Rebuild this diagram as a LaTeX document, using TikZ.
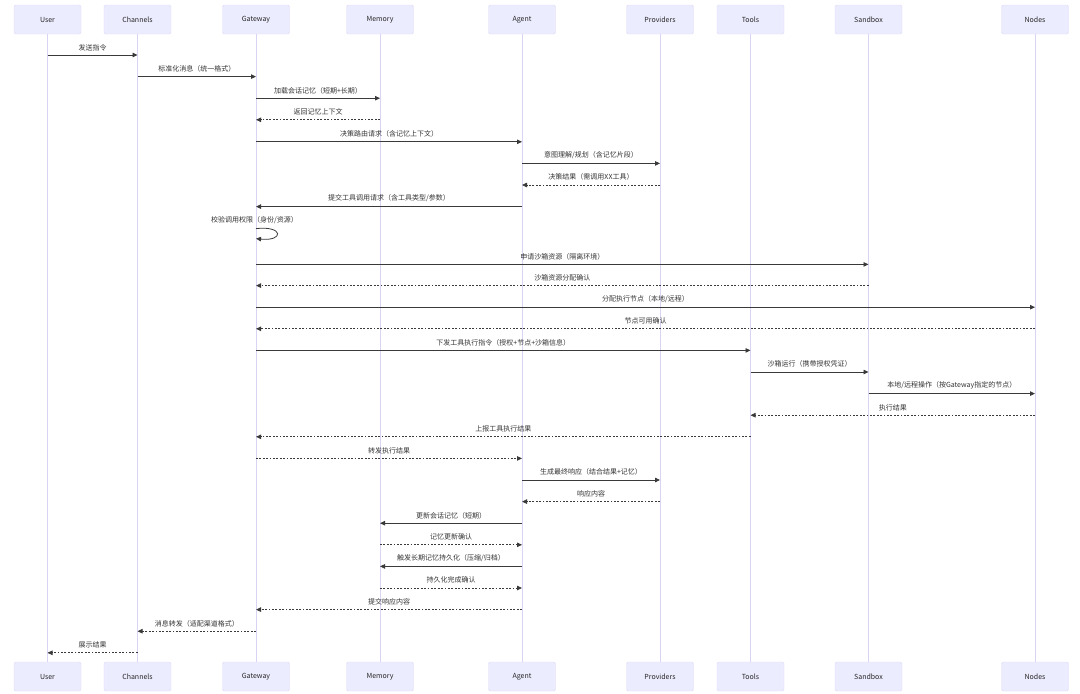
\documentclass[tikz,border=0pt]{standalone}
\usepackage{fontspec}
\newfontfamily\cjkfont{Noto Sans CJK SC}
\usetikzlibrary{arrows.meta,calc,positioning}

\definecolor{actorfill}{HTML}{ECECFF}
\definecolor{actorline}{HTML}{DDDAF5}
\definecolor{lifeline}{HTML}{D9D3F4}
\definecolor{msgline}{HTML}{3A3A3A}
\definecolor{msgtext}{HTML}{333333}

\begin{document}
\begin{tikzpicture}[x=1pt,y=-1pt,
  actor/.style={draw=actorline,fill=actorfill,rounded corners=1.5pt,
    minimum width=67pt,minimum height=29pt,inner sep=0pt,
    font=\cjkfont\fontsize{7}{8}\selectfont,text=black!85},
  life/.style={draw=lifeline,line width=0.9pt},
  msg/.style={draw=msgline,line width=0.8pt,-{Triangle[length=5pt,width=4.5pt]}},
  reply/.style={msg,dash pattern=on 1.8pt off 1.6pt},
  lbl/.style={midway,above=2pt,inner sep=2pt,
    font=\cjkfont\fontsize{7}{8}\selectfont,text=msgtext}]
  \useasboundingbox (0,0) rectangle (1080,694);

  % participants, top row
  \node[actor] (user)  at (47.5,19.5)  {User};
  \node[actor] (chan)  at (137.5,19.5) {Channels};
  \node[actor] (gw)    at (256,19.5)   {Gateway};
  \node[actor] (mem)   at (380,19.5)   {Memory};
  \node[actor] (agent) at (522,19.5)   {Agent};
  \node[actor] (prov)  at (660,19.5)   {Providers};
  \node[actor] (tool)  at (750.5,19.5) {Tools};
  \node[actor] (sbox)  at (868.5,19.5) {Sandbox};
  \node[actor] (nodes) at (1035,19.5)  {Nodes};

  % participants, bottom row
  \node[actor] (userB)  at (47.5,676.5)  {User};
  \node[actor] (chanB)  at (137.5,676.5) {Channels};
  \node[actor] (gwB)    at (256,676.5)   {Gateway};
  \node[actor] (memB)   at (380,676.5)   {Memory};
  \node[actor] (agentB) at (522,676.5)   {Agent};
  \node[actor] (provB)  at (660,676.5)   {Providers};
  \node[actor] (toolB)  at (750.5,676.5) {Tools};
  \node[actor] (sboxB)  at (868.5,676.5) {Sandbox};
  \node[actor] (nodesB) at (1035,676.5)  {Nodes};

  % lifelines
  \foreach \p in {user,chan,gw,mem,agent,prov,tool,sbox,nodes} {
    \draw[life] (\p) -- (\p B);
  }

  % request and memory load
  \draw[msg] (user |- 0,55) -- node[lbl] {发送指令} (chan |- 0,55);
  \draw[msg] (chan |- 0,76.6) -- node[lbl] {标准化消息（统一格式）} (gw |- 0,76.6);
  \draw[msg] (gw |- 0,98.2) -- node[lbl] {加载会话记忆（短期+长期）} (mem |- 0,98.2);
  \draw[reply] (mem |- 0,119.8) -- node[lbl] {返回记忆上下文} (gw |- 0,119.8);
  \draw[msg] (gw |- 0,141.8) -- node[lbl] {决策路由请求（含记忆上下文）} (agent |- 0,141.8);
  \draw[msg] (agent |- 0,163.4) -- node[lbl] {意图理解/规划（含记忆片段）} (prov |- 0,163.4);
  \draw[reply] (prov |- 0,185) -- node[lbl] {决策结果（需调用XX工具）} (agent |- 0,185);
  \draw[msg] (agent |- 0,206.6) -- node[lbl] {提交工具调用请求（含工具类型/参数）} (gw |- 0,206.6);

  % permission check (self call)
  \node[inner sep=2pt,font=\cjkfont\fontsize{7}{8}\selectfont,text=msgtext]
    (check) at (254.5,220.5) {校验调用权限（身份/资源）};
  \draw[msg] (gw |- 0,228.6) .. controls (284,225.5) and (284,241.5) .. (gw |- 0,238.6);

  % sandbox and node allocation
  \draw[msg] (gw |- 0,264.4) -- node[lbl] {申请沙箱资源（隔离环境）} (sbox |- 0,264.4);
  \draw[reply] (sbox |- 0,285.6) -- node[lbl] {沙箱资源分配确认} (gw |- 0,285.6);
  \draw[msg] (gw |- 0,307.2) -- node[lbl] {分配执行节点（本地/远程）} (nodes |- 0,307.2);
  \draw[reply] (nodes |- 0,328.8) -- node[lbl] {节点可用确认} (gw |- 0,328.8);

  % tool execution
  \draw[msg] (gw |- 0,350.4) -- node[lbl] {下发工具执行指令（授权+节点+沙箱信息）} (tool |- 0,350.4);
  \draw[msg] (tool |- 0,372) -- node[lbl] {沙箱运行（携带授权凭证）} (sbox |- 0,372);
  \draw[msg] (sbox |- 0,393.6) -- node[lbl] {本地/远程操作（按Gateway指定的节点）} (nodes |- 0,393.6);
  \draw[reply] (nodes |- 0,415.2) -- node[lbl] {执行结果} (tool |- 0,415.2);
  \draw[reply] (tool |- 0,436.8) -- node[lbl] {上报工具执行结果} (gw |- 0,436.8);
  \draw[reply] (gw |- 0,458.4) -- node[lbl] {转发执行结果} (agent |- 0,458.4);

  % final response and memory update
  \draw[msg] (agent |- 0,480) -- node[lbl] {生成最终响应（结合结果+记忆）} (prov |- 0,480);
  \draw[reply] (prov |- 0,501.6) -- node[lbl] {响应内容} (agent |- 0,501.6);
  \draw[msg] (agent |- 0,523.2) -- node[lbl] {更新会话记忆（短期）} (mem |- 0,523.2);
  \draw[reply] (mem |- 0,544.8) -- node[lbl] {记忆更新确认} (agent |- 0,544.8);
  \draw[msg] (agent |- 0,566.4) -- node[lbl] {触发长期记忆持久化（压缩/归档）} (mem |- 0,566.4);
  \draw[reply] (mem |- 0,588) -- node[lbl] {持久化完成确认} (agent |- 0,588);

  % back to the user
  \draw[reply] (agent |- 0,609.6) -- node[lbl] {提交响应内容} (gw |- 0,609.6);
  \draw[reply] (gw |- 0,631.2) -- node[lbl] {消息转发（适配渠道格式）} (chan |- 0,631.2);
  \draw[reply] (chan |- 0,652.8) -- node[lbl] {展示结果} (user |- 0,652.8);
\end{tikzpicture}
\end{document}
